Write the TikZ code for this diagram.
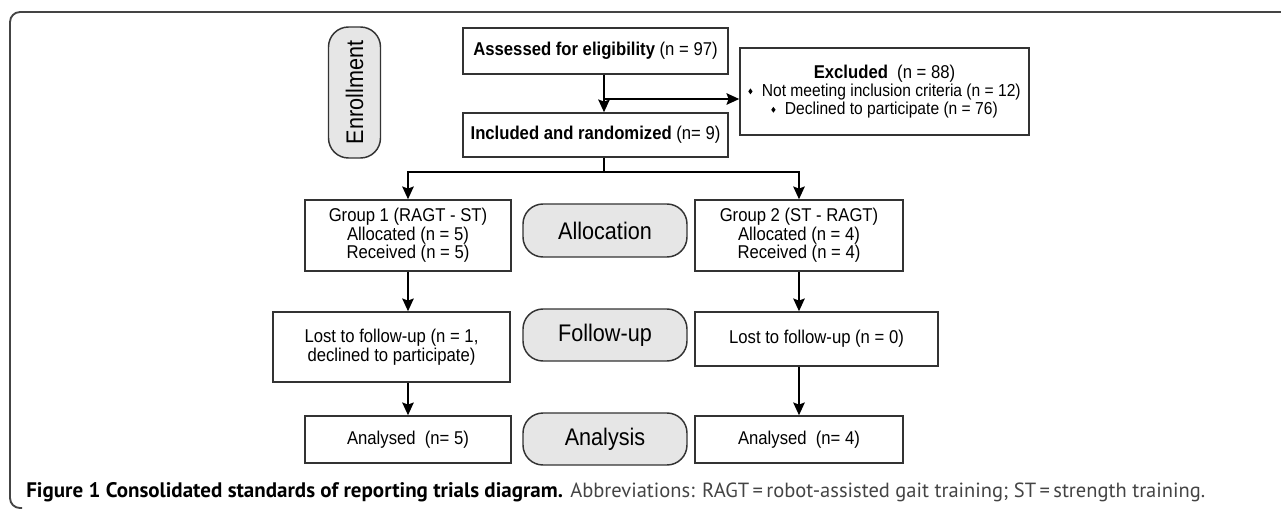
\documentclass[tikz,border=0pt]{standalone}
\usepackage{fontspec}
\setmainfont{Liberation Sans}
\newfontfamily\arialn[FakeStretch=0.9]{Liberation Sans}
\newfontfamily\capfont{PT Sans}
\usetikzlibrary{arrows.meta,calc}
\definecolor{boxline}{HTML}{333333}
\definecolor{pillfill}{HTML}{E6E6E6}
\definecolor{framec}{HTML}{444444}
\newcommand\dia{\tikz[baseline=-0.55ex]\fill[black] (0,2.2pt)--(1.6pt,0)--(0,-2.2pt)--(-1.6pt,0)--cycle;}
\tikzset{
  flowbox/.style={draw=boxline, line width=1.1pt, fill=white, inner sep=0pt, align=center,
    font=\arialn\fontsize{13.9}{13.8}\selectfont},
  pill/.style={draw=boxline, line width=1.1pt, fill=pillfill, rounded corners=15pt, inner sep=0pt,
    font=\arialn\fontsize{18}{18}\selectfont},
  conn/.style={line width=1.8pt, black},
  arr/.style={conn, -{Stealth[length=9.5pt,width=8.5pt,inset=1.5pt]}},
}
\begin{document}
\begin{tikzpicture}[x=0.75pt,y=-0.75pt]
\useasboundingbox (0,0) rectangle (1281,508);
% frame
\draw[framec, line width=1.4pt, rounded corners=7.5pt] (1290,12) -- (10,12) -- (10,508) -- (22,508);

% enrollment column
\node[pill, minimum width=98.25pt, minimum height=39pt, rotate=90] (enr) at (354.5,92.5) {Enrollment};
\node[flowbox, minimum width=198.75pt, minimum height=34.5pt] (ass) at (595.5,51) {\textbf{Assessed for eligibility} (n = 97)};
\node[flowbox, minimum width=216.75pt, minimum height=65.25pt] (exc) at (884.5,91.5)
  {\textbf{Excluded}\enspace(n = 88)\\ {\fontsize{13}{13.8}\selectfont\dia\hspace{7pt}Not meeting inclusion criteria (n = 12)}\\ {\fontsize{13}{13.8}\selectfont\dia\hspace{7pt}Declined to participate (n = 76)}};
\node[flowbox, minimum width=198.75pt, minimum height=33pt] (inc) at (595.5,135) {\textbf{Included and randomized} (n= 9)};

% allocation row
\node[flowbox, minimum width=154.5pt, minimum height=53.25pt] (g1) at (408,235.5) {Group 1 (RAGT - ST)\\Allocated (n = 5)\\Received (n = 5)};
\node[pill, minimum width=123pt, minimum height=39.75pt] (alloc) at (605,230.5) {Allocation};
\node[flowbox, minimum width=156pt, minimum height=53.25pt] (g2) at (799,235.5) {Group 2 (ST - RAGT)\\Allocated (n = 4)\\Received (n = 4)};

% follow-up row
\node[flowbox, minimum width=177.75pt, minimum height=52.5pt] (l1) at (391.5,347) {Lost to follow-up (n = 1,\\declined to participate)};
\node[pill, minimum width=123pt, minimum height=39pt] (fu) at (605,335) {Follow-up};
\node[flowbox, minimum width=182.25pt, minimum height=40.5pt] (l2) at (816.5,339) {Lost to follow-up (n = 0)};

% analysis row
\node[flowbox, minimum width=154.5pt, minimum height=35.25pt] (a1) at (408,439.5) {Analysed\ \ (n= 5)};
\node[pill, minimum width=123pt, minimum height=39pt] (ana) at (605,439) {Analysis};
\node[flowbox, minimum width=156pt, minimum height=35.25pt] (a2) at (799,439.5) {Analysed\ \ (n= 4)};

% connectors
\coordinate (sp) at (604,99);
\coordinate (split) at (604,172);
\draw[arr] (ass.south -| sp) -- (inc.north -| sp);
\draw[arr] (sp) -- (sp -| exc.west);
\draw[conn] (inc.south -| split) -- (split);
\draw[arr] (split) -| (g1.north);
\draw[arr] (split) -| (g2.north);
\draw[arr] (g1.south) -- (g1.south |- l1.north);
\draw[arr] (l1.south -| a1.north) -- (a1.north);
\draw[arr] (g2.south) -- (g2.south |- l2.north);
\draw[arr] (l2.south -| a2.north) -- (a2.north);

% caption
\node[anchor=base west, inner sep=0pt] (cap) at (26,497.5)
  {\resizebox{884.25pt}{!}{\capfont\fontsize{12.5}{15}\selectfont{\fontsize{12.8}{15}\selectfont\textbf{Figure 1 Consolidated standards of reporting trials diagram.}} {\color{framec}Abbreviations: RAGT\,=\,robot-assisted gait training; ST\,=\,strength training.}}};
\end{tikzpicture}
\end{document}
